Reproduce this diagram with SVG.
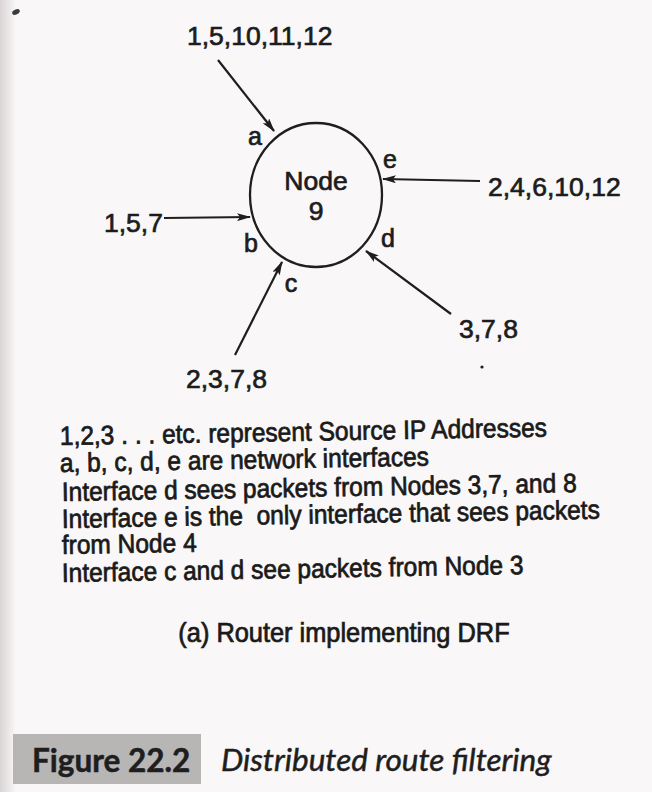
<svg xmlns="http://www.w3.org/2000/svg" width="652" height="792" viewBox="0 0 652 792">
  <defs>
    <linearGradient id="edge" x1="0" y1="0" x2="1" y2="0">
      <stop offset="0" stop-color="#d9d5d6"/>
      <stop offset="1" stop-color="#f9f7f7"/>
    </linearGradient>
    <marker id="ah" viewBox="0 0 14 8" refX="13" refY="4" markerWidth="14" markerHeight="8" markerUnits="userSpaceOnUse" orient="auto">
      <path d="M0,0 L14,4 L0,8 L3,4 Z" fill="#1e1e1e"/>
    </marker>
    <style>
      .lbl { font-family: "Liberation Sans", Arial, Helvetica, sans-serif; font-size: 26.5px; fill: #1c1c1c; stroke: #1c1c1c; stroke-width: 0.7px; }
      .ifc { font-family: "Liberation Sans", Arial, Helvetica, sans-serif; font-size: 25px; fill: #1c1c1c; stroke: #1c1c1c; stroke-width: 0.7px; }
      .body { font-family: "Liberation Sans", Arial, Helvetica, sans-serif; font-size: 26.5px; fill: #1a1a1a; stroke: #1a1a1a; stroke-width: 0.75px; white-space: pre; }
      .conn { stroke: #1e1e1e; stroke-width: 2.2; fill: none; marker-end: url(#ah); }
      .cap { font-family: Lato, "Noto Sans", sans-serif; font-size: 31.5px; fill: #1e1e1e; stroke: #1e1e1e; stroke-width: 0.5px; }
    </style>
  </defs>

  <rect x="0" y="0" width="652" height="792" fill="#f9f7f7"/>
  <rect x="0" y="0" width="16" height="792" fill="url(#edge)"/>
  <ellipse cx="16" cy="12" rx="4" ry="2.5" fill="#3a3a3a" transform="rotate(-25 16 12)"/>

  <g id="node9">
    <ellipse cx="316" cy="195" rx="66" ry="72" fill="none" stroke="#1e1e1e" stroke-width="2.3"/>
    <text class="lbl" x="316" y="190" text-anchor="middle">Node</text>
    <text class="lbl" x="316" y="220" text-anchor="middle">9</text>
  </g>

  <g id="interfaces">
    <text class="ifc" x="255" y="145" text-anchor="middle">a</text>
    <text class="ifc" x="251" y="252" text-anchor="middle">b</text>
    <text class="ifc" x="291" y="292" text-anchor="middle">c</text>
    <text class="ifc" x="388" y="247" text-anchor="middle">d</text>
    <text class="ifc" x="390" y="168" text-anchor="middle">e</text>
  </g>

  <g id="sources">
    <text class="lbl" x="187" y="45">1,5,10,11,12</text>
    <text class="lbl" x="104" y="232">1,5,7</text>
    <text class="lbl" x="488" y="196">2,4,6,10,12</text>
    <text class="lbl" x="186" y="388">2,3,7,8</text>
    <text class="lbl" x="459" y="338">3,7,8</text>
    <circle cx="482" cy="367" r="1.6" fill="#1e1e1e"/>
  </g>

  <g id="connectors">
    <line class="conn" x1="218" y1="60" x2="274" y2="131"/>
    <line class="conn" x1="164" y1="218" x2="250" y2="217"/>
    <line class="conn" x1="480" y1="181" x2="383" y2="179"/>
    <line class="conn" x1="235" y1="355" x2="282" y2="262"/>
    <line class="conn" x1="451" y1="314" x2="366" y2="251"/>
  </g>

  <g id="notes">
    <text class="body" transform="translate(60 445) rotate(-1) scale(0.925 1)">1,2,3 . . . etc. represent Source IP Addresses</text>
    <text class="body" transform="translate(60 472) rotate(-1) scale(0.925 1)">a, b, c, d, e are network interfaces</text>
    <text class="body" transform="translate(62 501) rotate(-1) scale(0.925 1)">Interface d sees packets from Nodes 3,7, and 8</text>
    <text class="body" transform="translate(62 528) rotate(-1) scale(0.925 1)" xml:space="preserve">Interface e is the  only interface that sees packets</text>
    <text class="body" transform="translate(62 554) rotate(-1) scale(0.925 1)">from Node 4</text>
    <text class="body" transform="translate(62 582) rotate(-1) scale(0.925 1)">Interface c and d see packets from Node 3</text>
    <text class="body" transform="translate(344 642) scale(0.94 1)" text-anchor="middle" style="font-size:27px">(a) Router implementing DRF</text>
  </g>

  <g id="caption">
    <rect x="13" y="734" width="188" height="50" fill="#b8b5b5"/>
    <text class="cap" x="32" y="772" font-weight="bold">Figure 22.2</text>
    <text class="cap" x="221" y="771" font-style="italic">Distributed route filtering</text>
  </g>
</svg>
